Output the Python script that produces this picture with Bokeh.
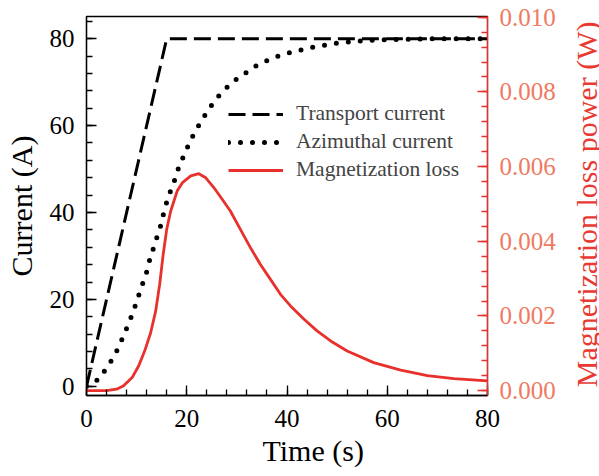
import math
from bokeh.plotting import figure
from bokeh.layouts import row
from bokeh.models import (Range1d, LinearAxis, SingleIntervalTicker, Legend, LegendItem,
                          NumeralTickFormatter, Title)
from bokeh.core.properties import value
from bokeh.embed import file_html
from bokeh.resources import INLINE

# ---- data ----
t_transport = [0, 16, 80]
I_transport = [0, 80, 80]

t_azimuthal = [0, 2.4, 4.1, 5.6, 6.7, 7.7, 8.7, 9.6, 10.4, 11.2, 12.0, 12.6, 13.3, 14.1,
               14.8, 15.4, 16.1, 16.9, 17.8, 18.5, 19.6, 20.6, 21.9, 23.3, 24.9, 26.7,
               29.1, 31.6, 33.9, 36.3, 38.7, 41.0, 45, 50, 55, 60, 70, 80]
I_azimuthal = [0, 1.6, 4.4, 7.1, 9.8, 12.5, 15.3, 18.1, 20.9, 23.6, 26.3, 29.1, 31.6, 34.5,
               37.0, 39.9, 42.8, 45.4, 48.1, 50.8, 53.5, 56.3, 59.1, 61.8, 64.6, 67.3,
               70.0, 72.0, 73.8, 75.1, 76.2, 76.9, 78.0, 79.0, 79.5, 79.8, 80.0, 80.0]

t_loss = [0, 4, 6, 7.4, 9.1, 10.4, 11.6, 12.8, 13.8, 14.6, 15.3, 16.0, 16.8, 18.1, 19.2,
          20.8, 22.4, 23.8, 25.4, 27.1, 28.7, 30.7, 32.7, 34.7, 36.7, 38.7, 40.7, 43.4,
          46.0, 48.7, 52, 57.3, 62.7, 68, 73.3, 80]
P_loss = [0, 0, 0.00004, 0.00013, 0.00035, 0.00066, 0.00106, 0.00155, 0.00213, 0.00285,
          0.00365, 0.00432, 0.00481, 0.00535, 0.00558, 0.00575, 0.00581, 0.0057, 0.00544,
          0.00512, 0.00481, 0.00432, 0.00383, 0.00338, 0.00298, 0.00258, 0.00227, 0.00191,
          0.0016, 0.00133, 0.00106, 0.00075, 0.00055, 0.0004, 0.00032, 0.00026]

labels = ["Transport current", "Azimuthal current", "Magnetization loss"]
x_title = "Time (s)"
y_title = "Current (A)"
y2_title = "Magnetization loss power (W)"

FONT = "Liberation Serif, Times New Roman, DejaVu Serif, serif"
RED = "#E8302C"
RED_TICK = "#EF7A62"
RED_LABEL = "#E83A33"
TITLE_SIZE = "30px"

p = figure(width=563, height=476, output_backend="svg", toolbar_location=None,
           x_range=Range1d(0, 80), y_range=Range1d(-2.1, 85.1),
           min_border_left=86, min_border_right=76, min_border_top=16, min_border_bottom=81)
p.frame_width = 401
p.frame_height = 379
p.xgrid.visible = False
p.ygrid.visible = False
p.outline_line_color = "black"
p.outline_line_width = 1.3
p.background_fill_color = "white"
p.border_fill_color = "white"

p.extra_y_ranges = {"loss": Range1d(-0.00013, 0.01002)}

r_tr = p.line(t_transport, I_transport, line_color="black", line_width=3,
              line_dash="17 7")
r_az = p.line(t_azimuthal, I_azimuthal, line_color="black", line_width=5,
              line_dash="0 12", line_cap="round")
r_ls = p.line(t_loss, P_loss, line_color=RED, line_width=2.8, y_range_name="loss",
              line_join="round")


def style(ax, color, label_color, tick_color):
    ax.axis_line_color = color
    ax.axis_line_width = 1.3
    ax.major_tick_line_color = color
    ax.minor_tick_line_color = color
    ax.major_tick_line_width = 1.3
    ax.minor_tick_line_width = 1.3
    ax.major_tick_in = 10
    ax.major_tick_out = 0
    ax.minor_tick_in = 6
    ax.minor_tick_out = 0
    ax.major_label_text_font = FONT
    ax.major_label_text_font_size = "25px"
    ax.major_label_text_color = tick_color
    ax.axis_label_text_font = FONT
    ax.axis_label_text_font_size = TITLE_SIZE
    ax.axis_label_text_font_style = "normal"
    ax.axis_label_text_color = label_color
    ax.major_label_standoff = 12


p.xaxis.ticker = SingleIntervalTicker(interval=20, num_minor_ticks=5)
p.yaxis.ticker = SingleIntervalTicker(interval=20, num_minor_ticks=5)
p.yaxis.axis_label = y_title
style(p.xaxis[0], "black", "black", "black")
style(p.yaxis[0], "black", "black", "black")
p.xaxis.major_label_standoff = 14
p.yaxis.axis_label_standoff = 9

# x title, slightly right of the frame centre as in the original
p.add_layout(Title(text=x_title, align="left", offset=176, text_font=FONT,
                   text_font_size=TITLE_SIZE, text_font_style="normal", text_color="black",
                   standoff=4), "below")

ax_r = LinearAxis(y_range_name="loss",
                  ticker=SingleIntervalTicker(interval=0.002, num_minor_ticks=5),
                  formatter=NumeralTickFormatter(format="0.000"))
style(ax_r, RED, RED_LABEL, RED_TICK)
p.add_layout(ax_r, "right")

legend = Legend(items=[LegendItem(label=labels[0], renderers=[r_tr]),
                       LegendItem(label=labels[1], renderers=[r_az]),
                       LegendItem(label=labels[2], renderers=[r_ls])],
                location=(142, 213))
legend.label_text_font = FONT
legend.label_text_font_size = "21.5px"
legend.glyph_width = 55
legend.glyph_height = 20
legend.label_height = 20
legend.label_standoff = 13
legend.spacing = 3
legend.padding = 0
legend.margin = 0
legend.border_line_color = None
legend.background_fill_alpha = 0
p.add_layout(legend, "center")

# narrow strip carrying the right-hand axis title, reading bottom to top
p2 = figure(width=36, height=476, output_backend="svg", toolbar_location=None, title=None,
            x_range=Range1d(0, 36), y_range=Range1d(0, 476),
            min_border_left=0, min_border_right=0, min_border_top=0, min_border_bottom=0)
p2.axis.visible = False
p2.grid.visible = False
p2.outline_line_color = None
p2.background_fill_color = "white"
p2.border_fill_color = "white"
p2.text(x=[23], y=[240], text=[y2_title], angle=math.pi / 2,
        text_align="center", text_baseline="middle", text_font=value(FONT),
        text_font_size=TITLE_SIZE, text_color=RED_LABEL)

layout = row(p, p2, spacing=0)
open("out.html", "w").write(file_html(layout, INLINE))
